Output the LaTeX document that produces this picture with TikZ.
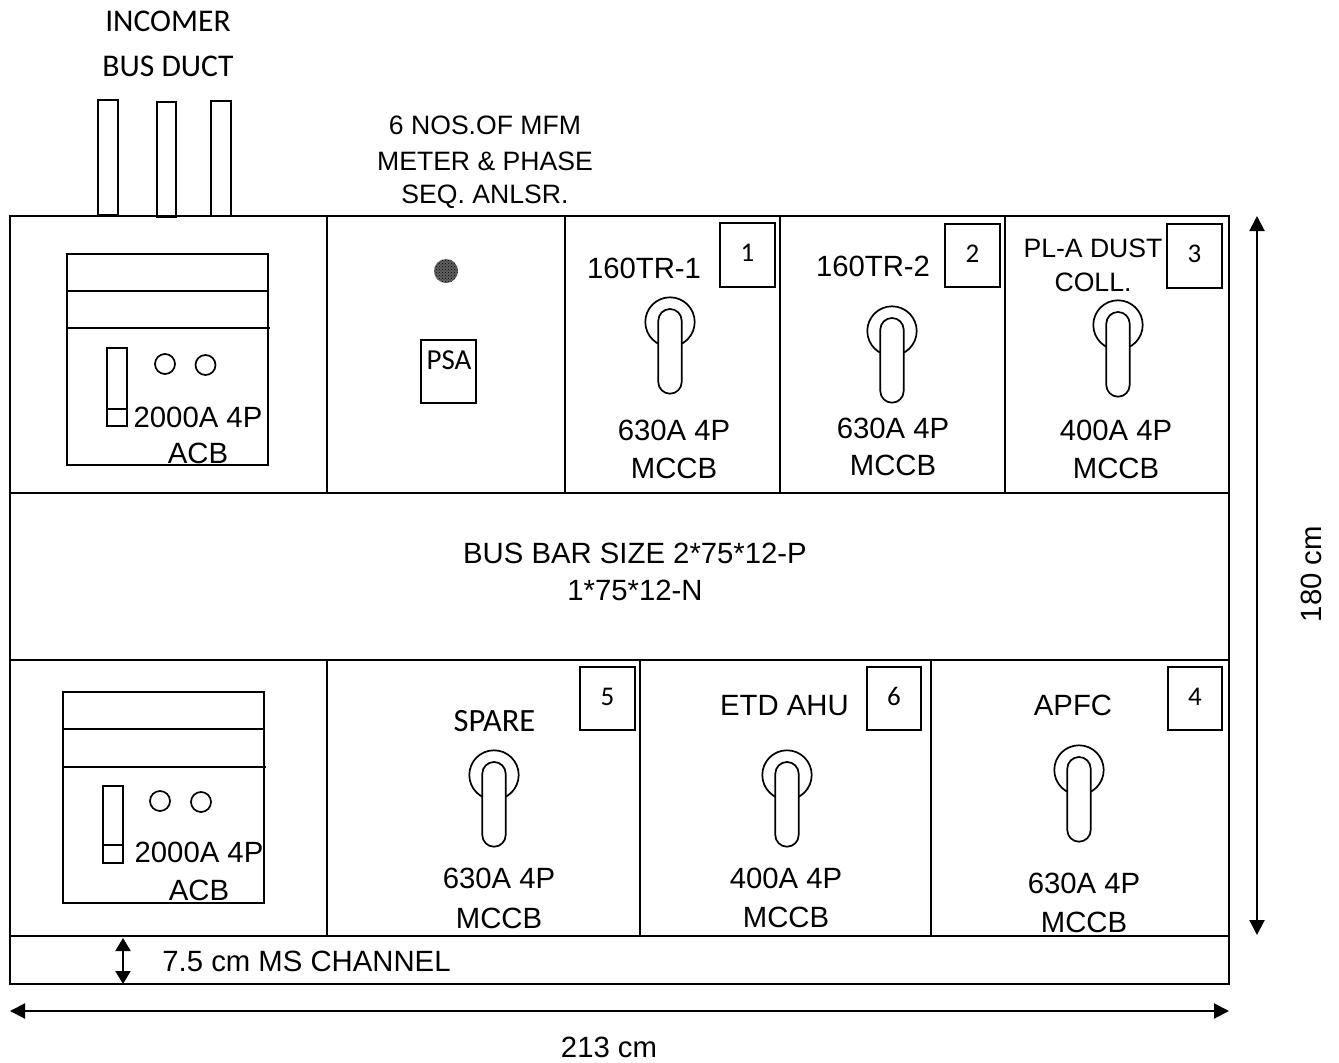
\documentclass[tikz,border=0pt]{standalone}
\usepackage{fontspec}
\setmainfont{Liberation Sans}
\newfontfamily\calfont{Carlito}
\usetikzlibrary{arrows.meta,patterns}
\newcommand{\lbl}[3]{\node[lab] (#3) at (#1) {#2};}
\newcommand{\smlbl}[3]{\node[lab,font=\fontsize{26.6}{30}\selectfont] (#3) at (#1) {#2};}
\newcommand{\callbl}[4]{\node[lab,font=\fontsize{#4}{34}\selectfont\calfont] (#3) at (#1) {#2};}
\newcommand{\handlesym}[2]{%
  \draw[thin2] (#1,#2) circle (24.7);
  \draw[thin2,fill=white] (#1-11.7,#2+60) -- (#1-11.7,#2-1.3) arc (180:360:11.7) -- (#1+11.7,#2+60) arc (0:180:11.7) -- cycle;}
\newcommand{\numbox}[5]{\draw[thin2] (#1,#2) rectangle (#3,#4); \node[lab,font=\fontsize{27}{30}\selectfont\calfont] (n#5) at ({(#1+#3)/2},{(#2+#4)/2-2}) {#5};}
\tikzset{x=1pt,y=-1pt,
  thin2/.style={line width=1.7pt,black},
  lab/.style={inner sep=0pt,align=center,font=\fontsize{29.3}{38}\selectfont,text=black},
  dimarrow/.style={line width=2pt,{Triangle[length=15pt,width=15pt]}-{Triangle[length=15pt,width=15pt]}}}
\begin{document}
\begin{tikzpicture}
\useasboundingbox (0,0) rectangle (1339,1063);
% frame
\draw[thin2] (10,216) rectangle (1229,984);
\foreach \yy in {493,660,936} \draw[thin2] (10,\yy) -- (1229,\yy);
\foreach \xx in {327,565,780,1005} \draw[thin2] (\xx,216) -- (\xx,493);
\foreach \xx in {327,640,931} \draw[thin2] (\xx,660) -- (\xx,936);
% bus ducts
\draw[thin2] (98,100) rectangle (118,215);
\draw[thin2] (157,102) rectangle (176,217);
\draw[thin2] (211,101) rectangle (231,216);
% ACB upper
\draw[thin2] (67,254) rectangle (268,465);
\draw[thin2] (67,291) -- (268,291);
\draw[thin2] (67,328) -- (270,328);
\draw[thin2] (107,348) rectangle (127,426);
\draw[thin2] (107,409) -- (127,409);
\draw[thin2] (165,364) circle (10);
\draw[thin2] (205.5,365) circle (10);
% ACB lower
\draw[thin2] (63,692) rectangle (264,903);
\draw[thin2] (63,729) -- (264,729);
\draw[thin2] (63,767) -- (266,767);
\draw[thin2] (103,786) rectangle (123,863);
\draw[thin2] (103,845) -- (123,845);
\draw[thin2] (160,801) circle (10);
\draw[thin2] (201,802) circle (10);
% meter + PSA
\fill[black!62] (446,271) circle (12);
\fill[pattern=crosshatch dots,pattern color=black] (446,271) circle (12);
\draw[thin2] (421,340) rectangle (476,403);
% number boxes
\numbox{720}{223}{775}{287}{1}
\numbox{945}{224}{1000}{287}{2}
\numbox{1167}{224}{1222}{288}{3}
\numbox{580}{667}{635}{730}{5}
\numbox{867}{667}{921}{730}{6}
\numbox{1168}{667}{1222}{730}{4}
% handles
\handlesym{670}{322}
\handlesym{892}{331}
\handlesym{1118}{325}
\handlesym{494}{775}
\handlesym{787}{775}
\handlesym{1079}{770}
% dimension arrows
\coordinate (rt) at (1257,216); \coordinate (rb) at (1257,935);
\coordinate (bl) at (10,1011); \coordinate (br) at (1229,1011);
\coordinate (st) at (123,938); \coordinate (sb) at (123,984);
\draw[dimarrow] (rt) -- (rb);
\draw[dimarrow] (bl) -- (br);
\draw[line width=2pt,{Triangle[length=13pt,width=15pt]}-{Triangle[length=13pt,width=15pt]}] (st) -- (sb);
% texts
\callbl{168,21}{INCOMER}{t1}{31.6}
\callbl{168,66}{BUS DUCT}{t2}{31.6}
\smlbl{485,125}{6 NOS.OF MFM}{t3}
\smlbl{485,161}{METER \& PHASE}{t4}
\smlbl{485,197}{SEQ. ANLSR.}{t5}
\callbl{449,360}{PSA}{t6}{29}
\lbl{644,268}{160TR-1}{t7}
\lbl{873,266}{160TR-2}{t8}
\smlbl{1093,248}{PL-A DUST}{t9}
\smlbl{1093,282}{COLL.}{t10}
\lbl{198,417}{2000A 4P}{t11}
\lbl{198,453}{ACB}{t12}
\lbl{674,430}{630A 4P}{t13}
\lbl{674,468}{MCCB}{t14}
\lbl{893,428}{630A 4P}{t15}
\lbl{893,465}{MCCB}{t16}
\lbl{1116,430}{400A 4P}{t17}
\lbl{1116,468}{MCCB}{t18}
\lbl{635,553}{BUS BAR SIZE 2*75*12-P}{t19}
\lbl{635,590}{1*75*12-N}{t20}
\callbl{494.5,721}{SPARE}{t21}{32.5}
\lbl{784.5,706}{ETD AHU}{t22}
\lbl{1073,705}{APFC}{t23}
\lbl{199,852}{2000A 4P}{t24}
\lbl{199,890}{ACB}{t25}
\lbl{499,878}{630A 4P}{t26}
\lbl{499,918}{MCCB}{t27}
\lbl{786,878}{400A 4P}{t28}
\lbl{786,917}{MCCB}{t29}
\lbl{1084,883}{630A 4P}{t30}
\lbl{1084,922}{MCCB}{t31}
\lbl{306.5,961}{7.5 cm MS CHANNEL}{t32}
\lbl{609,1047}{213 cm}{t33}
\node[lab,rotate=90] (t34) at (1311,574) {180 cm};
\end{tikzpicture}
\end{document}
